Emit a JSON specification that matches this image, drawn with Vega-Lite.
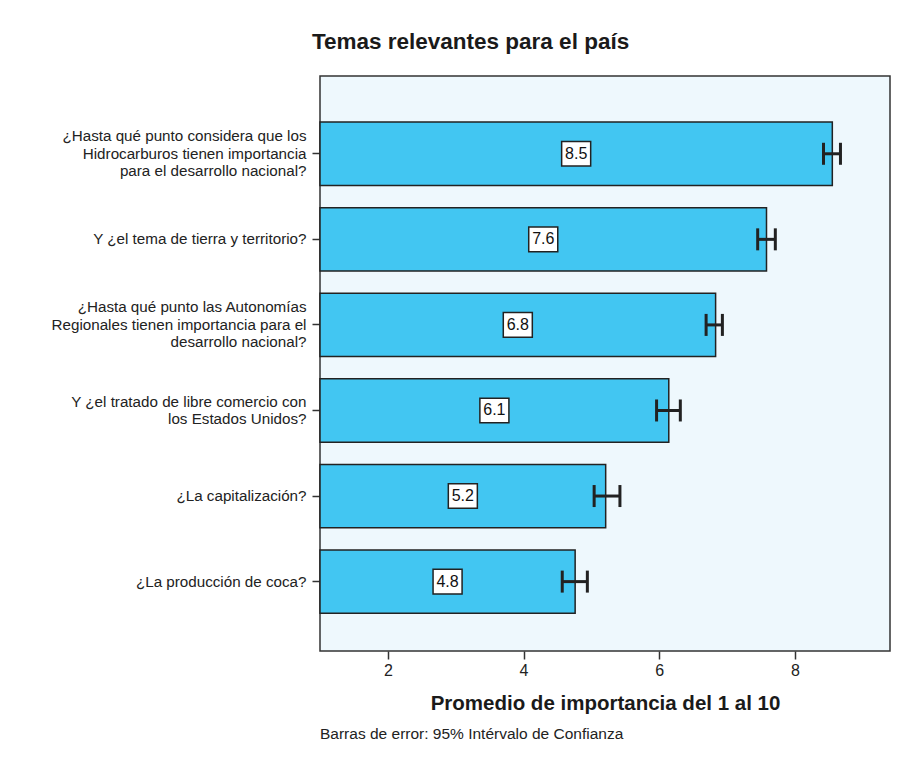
{
  "$schema": "https://vega.github.io/schema/vega-lite/v6.json",
  "background": "white",
  "padding": {"left": 50, "top": 30, "right": 20, "bottom": 10},
  "title": {
    "text": "Temas relevantes para el país",
    "anchor": "middle",
    "frame": "bounds",
    "font": "Liberation Sans",
    "fontSize": 22.5,
    "fontWeight": "bold",
    "color": "#1a1a1a",
    "offset": 22
  },
  "data": {
    "values": [
      {"q": "¿Hasta qué punto considera que los|Hidrocarburos tienen importancia|para el desarrollo nacional?", "value": 8.55, "lo": 8.42, "hi": 8.67, "lbl": "8.5"},
      {"q": "Y ¿el tema de tierra y territorio?", "value": 7.58, "lo": 7.45, "hi": 7.71, "lbl": "7.6"},
      {"q": "¿Hasta qué punto las Autonomías|Regionales tienen importancia para el|desarrollo nacional?", "value": 6.83, "lo": 6.69, "hi": 6.93, "lbl": "6.8"},
      {"q": "Y ¿el tratado de libre comercio con|los Estados Unidos?", "value": 6.14, "lo": 5.96, "hi": 6.31, "lbl": "6.1"},
      {"q": "¿La capitalización?", "value": 5.21, "lo": 5.04, "hi": 5.42, "lbl": "5.2"},
      {"q": "¿La producción de coca?", "value": 4.76, "lo": 4.57, "hi": 4.94, "lbl": "4.8"}
    ]
  },
  "vconcat": [
    {
      "width": 570,
      "height": 575,
      "title": {
        "text": "Barras de error: 95% Intérvalo de Confianza",
        "orient": "bottom",
        "anchor": "start",
        "frame": "group",
        "font": "Liberation Sans",
        "fontSize": 15.5,
        "fontWeight": "normal",
        "color": "#222",
        "offset": 13
      },
      "transform": [{"calculate": "(1 + datum.value) / 2", "as": "mid"}],
      "encoding": {
        "y": {
          "field": "q",
          "type": "nominal",
          "sort": null,
          "scale": {"paddingInner": 0.26, "paddingOuter": 0.49, "align": 0.55},
          "axis": {
            "title": null,
            "domain": false,
            "ticks": true,
            "tickSize": 8,
            "tickColor": "#333",
            "tickWidth": 1.5,
            "labelPadding": 6,
            "labelExpr": "split(datum.label, '|')",
            "labelOffset": {
              "condition": [
                {"test": "length(split(datum.label, '|')) == 3", "value": -17.5},
                {"test": "length(split(datum.label, '|')) == 2", "value": -8.75}
              ],
              "value": 0
            },
            "labelFont": "Liberation Sans",
            "labelFontSize": 15.2,
            "labelColor": "#222",
            "labelLineHeight": 17.5,
            "labelLimit": 400
          }
        }
      },
      "layer": [
        {
          "mark": {"type": "bar", "fill": "#42C6F2", "stroke": "#222", "strokeWidth": 1.5},
          "encoding": {
            "x": {
              "field": "value",
              "type": "quantitative",
              "scale": {"domain": [1, 9.4], "nice": false, "zero": false},
              "axis": {
                "title": "Promedio de importancia del 1 al 10",
                "values": [2, 4, 6, 8],
                "format": "d",
                "grid": false,
                "domain": false,
                "ticks": true,
                "tickSize": 8,
                "tickColor": "#333",
                "tickWidth": 1.5,
                "tickOpacity": 1,
                "labelPadding": 3,
                "labelFont": "Liberation Sans",
                "labelFontSize": 16,
                "labelColor": "#222",
                "titleFont": "Liberation Sans",
                "titleFontSize": 20.5,
                "titleFontWeight": "bold",
                "titleColor": "#1a1a1a",
                "titlePadding": 15
              }
            },
            "x2": {"datum": 1}
          }
        },
        {
          "mark": {"type": "rule", "stroke": "#222", "strokeWidth": 3},
          "encoding": {
            "x": {"field": "lo", "type": "quantitative"},
            "x2": {"field": "hi"}
          }
        },
        {
          "mark": {"type": "tick", "color": "#222", "thickness": 3, "size": 22, "opacity": 1},
          "encoding": {"x": {"field": "lo", "type": "quantitative"}}
        },
        {
          "mark": {"type": "tick", "color": "#222", "thickness": 3, "size": 22, "opacity": 1},
          "encoding": {"x": {"field": "hi", "type": "quantitative"}}
        },
        {
          "mark": {"type": "point", "shape": "M-1.18,-1H1.18V1H-1.18Z", "size": 605, "filled": true, "fill": "white", "stroke": "#222", "strokeWidth": 1.5, "opacity": 1},
          "encoding": {"x": {"field": "mid", "type": "quantitative"}}
        },
        {
          "mark": {"type": "text", "font": "Liberation Sans", "fontSize": 16, "color": "#111", "align": "center", "baseline": "middle"},
          "encoding": {
            "x": {"field": "mid", "type": "quantitative"},
            "text": {"field": "lbl"}
          }
        }
      ]
    }
  ],
  "config": {
    "view": {"fill": "#EEF8FD", "stroke": "#333", "strokeWidth": 1.5},
    "axis": {"labelFont": "Liberation Sans"}
  }
}
